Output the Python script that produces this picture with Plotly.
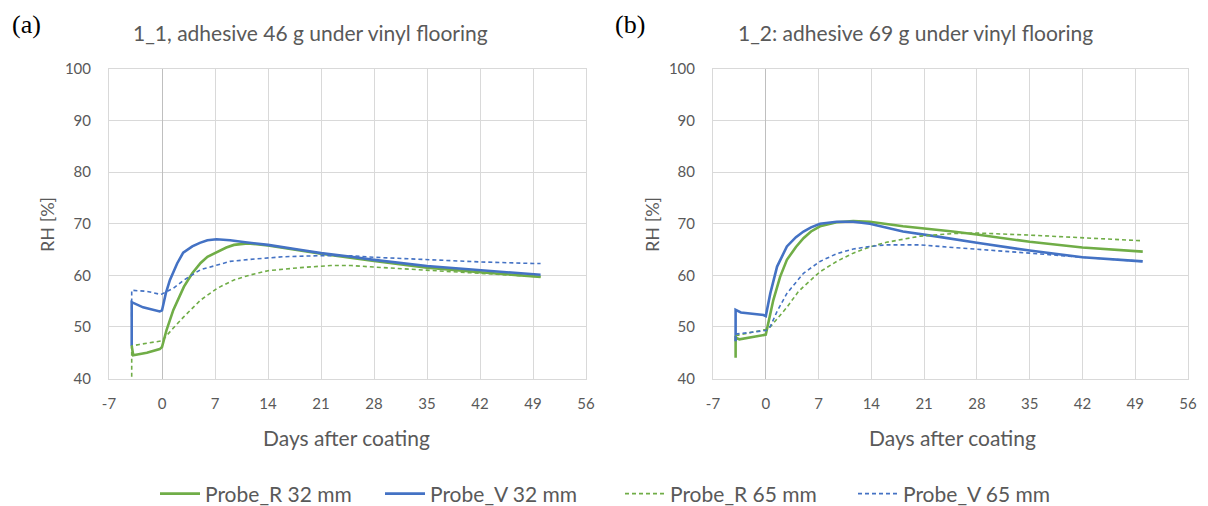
import plotly.graph_objects as go

# ---------------- data ----------------
# Panel (a): 1_1, adhesive 46 g
r32_a_x = [-4, -3.8, -2, -0.3, 0, 0.6, 1.5, 2.9, 4, 5.1, 6, 7.3, 8.5, 9.5, 11.3, 14, 18.4, 21, 28, 35, 42, 49, 50]
r32_a_y = [46.3, 44.5, 45.0, 45.7, 46.1, 49.4, 53.3, 57.8, 60.4, 62.4, 63.6, 64.6, 65.4, 65.9, 66.2, 65.8, 64.8, 64.2, 62.8, 61.5, 60.6, 59.8, 59.7]

v32_a_x = [-4, -4, -2.5, -0.3, 0, 0.5, 1.05, 2, 2.8, 4, 5, 6, 7.2, 9, 11, 14, 18.4, 21, 25, 28, 35, 42, 49, 50]
v32_a_y = [46.3, 54.8, 53.8, 53.0, 53.2, 56.5, 59.1, 62.3, 64.4, 65.6, 66.3, 66.8, 67.0, 66.8, 66.4, 65.9, 64.9, 64.3, 63.6, 63.0, 61.8, 61.0, 60.2, 60.1]

r65_a_x = [-4, -4, -3, -1, 0, 1.5, 2.9, 5.1, 7.3, 9.5, 11.7, 14, 16.1, 18.3, 22.3, 25, 28, 35, 42, 49, 50]
r65_a_y = [39.0, 46.3, 46.6, 47.0, 47.3, 49.8, 52.0, 55.2, 57.5, 59.1, 60.1, 60.9, 61.2, 61.5, 61.9, 61.9, 61.6, 61.0, 60.5, 59.8, 59.7]

v65_a_x = [-4, -4, -2, -0.2, 0, 1.5, 2.9, 5.1, 7.3, 9, 11.7, 14, 16, 20.5, 25, 28, 35, 42, 49, 50]
v65_a_y = [52.0, 57.1, 56.9, 56.3, 56.4, 57.5, 59.1, 61.1, 62.0, 62.7, 63.1, 63.4, 63.6, 63.8, 63.8, 63.5, 63.0, 62.6, 62.3, 62.3]

# Panel (b): 1_2, adhesive 69 g
r32_b_x = [-4, -4, -3.5, -0.3, 0, 1, 1.9, 2.8, 4, 5, 6, 7.2, 9.4, 11.6, 13.8, 18.2, 22.8, 24.8, 28, 35, 42, 49, 50]
r32_b_y = [44.0, 47.9, 47.6, 48.4, 48.5, 55.2, 59.7, 63.0, 65.5, 67.2, 68.5, 69.5, 70.3, 70.5, 70.4, 69.5, 68.9, 68.5, 67.9, 66.5, 65.4, 64.7, 64.6]

v32_b_x = [-4, -4, -3.3, -0.3, 0, 0.6, 1.5, 2.8, 4, 5, 6, 7.2, 9.4, 11.6, 13.8, 18.2, 22.8, 24.8, 28, 35, 42, 49, 50]
v32_b_y = [47.2, 53.3, 52.8, 52.3, 52.1, 56.5, 61.7, 65.6, 67.4, 68.5, 69.3, 70.0, 70.4, 70.4, 70.0, 68.5, 67.5, 67.0, 66.3, 64.8, 63.5, 62.8, 62.7]

r65_b_x = [-4, -2, 0, 0.6, 1.5, 2.8, 4.3, 5, 7.2, 9.4, 11.6, 13.8, 16, 18.2, 20.5, 24.8, 28, 35, 42, 49, 50]
r65_b_y = [48.3, 48.9, 49.5, 50.0, 51.5, 53.8, 56.8, 57.8, 60.7, 62.7, 64.3, 65.5, 66.4, 67.0, 67.6, 68.1, 68.2, 67.8, 67.3, 66.8, 66.7]

v65_b_x = [-4, -2, 0, 0.6, 1.5, 2.8, 5, 7.2, 9.4, 11.6, 13.8, 16, 20.5, 24.8, 28, 35, 42, 49, 50]
v65_b_y = [48.6, 49.0, 49.3, 50.1, 53.0, 56.5, 60.4, 62.7, 64.2, 65.1, 65.6, 65.9, 65.9, 65.4, 65.1, 64.3, 63.5, 62.8, 62.7]

series_names = ["Probe_R 32 mm", "Probe_V 32 mm", "Probe_R 65 mm", "Probe_V 65 mm"]
panel_titles = ["1_1, adhesive 46 g under vinyl flooring", "1_2: adhesive 69 g under vinyl flooring"]
panel_labels = ["(a)", "(b)"]
x_ticks = [-7, 0, 7, 14, 21, 28, 35, 42, 49, 56]
x_ticktext = ["-7", "0", "7", "14", "21", "28", "35", "42", "49", "56"]
y_ticks = [40, 50, 60, 70, 80, 90, 100]

# ---------------- styling ----------------
GREEN = "#70AD47"
BLUE = "#4472C4"
TXT = "#595959"
GRID = "#D9D9D9"
FONT = "Lato, 'Open Sans', sans-serif"

styles = [
    dict(color=GREEN, width=2.6, dash="solid"),
    dict(color=BLUE, width=2.6, dash="solid"),
    dict(color=GREEN, width=1.6, dash="4px,3px"),
    dict(color=BLUE, width=1.6, dash="4px,3px"),
]
legend_ids = ["legend", "legend2", "legend3", "legend4"]
legend_text_x = [205, 430, 670, 903]

panels = [
    [(r32_a_x, r32_a_y), (v32_a_x, v32_a_y), (r65_a_x, r65_a_y), (v65_a_x, v65_a_y)],
    [(r32_b_x, r32_b_y), (v32_b_x, v32_b_y), (r65_b_x, r65_b_y), (v65_b_x, v65_b_y)],
]

fig = go.Figure()
for p, data in enumerate(panels):
    xa = "x" if p == 0 else "x2"
    ya = "y" if p == 0 else "y2"
    for i, (xs, ys) in enumerate(data):
        fig.add_trace(go.Scatter(
            x=xs, y=ys, mode="lines", name=series_names[i],
            line=styles[i], xaxis=xa, yaxis=ya,
            showlegend=(p == 0), legend=legend_ids[i],
        ))

# The page body adds an 8 px offset; convert window pixels to paper fractions.
OFF = 8
W, H = 1200, 498

def px(xw):
    return (xw - OFF) / W

def py(yw):
    return 1 - (yw - OFF) / H

dom_x = [[px(109), px(586)], [px(713), px(1188)]]
dom_y = [py(378.5), py(69)]

def xaxis(dom, anchor):
    return dict(domain=dom, anchor=anchor, range=[-7, 56], tickvals=x_ticks, ticktext=x_ticktext,
                showgrid=True, gridcolor=GRID, gridwidth=1,
                zeroline=True, zerolinecolor="#BFBFBF", zerolinewidth=1.2,
                showline=True, linecolor=GRID, mirror=True, automargin=False,
                ticks="", tickfont=dict(family=FONT, size=15, color=TXT),
                ticklabelstandoff=11, fixedrange=True)

def yaxis(anchor):
    return dict(domain=dom_y, anchor=anchor, range=[40, 100], tickvals=y_ticks,
                showgrid=True, gridcolor=GRID, gridwidth=1,
                zeroline=False, showline=True, linecolor=GRID, mirror=True,
                automargin=False,
                ticks="", tickfont=dict(family=FONT, size=15, color=TXT),
                ticklabelstandoff=14, fixedrange=True)

annotations = []
title_cx = [310, 915]
xtitle_cx = [346, 952]
label_x = [10, 613]
ytitle_x = [47, 652]
for p in range(2):
    annotations.append(dict(text=panel_titles[p], xref="paper", yref="paper",
                            x=px(title_cx[p]), y=py(32),
                            xanchor="center", yanchor="middle", showarrow=False,
                            font=dict(family=FONT, size=21, color=TXT)))
    annotations.append(dict(text=panel_labels[p], xref="paper", yref="paper",
                            x=px(label_x[p]), y=py(25),
                            xanchor="left", yanchor="middle", showarrow=False,
                            font=dict(family="Liberation Serif, serif", size=26, color="#000000")))
    annotations.append(dict(text="Days after coating", xref="paper", yref="paper",
                            x=px(xtitle_cx[p]), y=py(437), xanchor="center", yanchor="middle",
                            showarrow=False, font=dict(family=FONT, size=21, color=TXT)))
    annotations.append(dict(text="RH [%]", xref="paper", yref="paper",
                            x=px(ytitle_x[p]), y=py(225),
                            xanchor="center", yanchor="middle", textangle=-90,
                            showarrow=False, font=dict(family=FONT, size=18, color=TXT)))

layout = dict(
    width=W, height=H,
    margin=dict(l=0, r=0, t=0, b=0, autoexpand=False),
    paper_bgcolor="white", plot_bgcolor="white",
    xaxis=xaxis(dom_x[0], "y"), yaxis=yaxis("x"),
    xaxis2=xaxis(dom_x[1], "y2"), yaxis2=yaxis("x2"),
    annotations=annotations,
    showlegend=True,
)
for i, lid in enumerate(legend_ids):
    layout[lid] = dict(orientation="h", x=px(legend_text_x[i] - 50), y=py(494),
                       xanchor="left", yanchor="middle",
                       font=dict(family=FONT, size=21, color=TXT),
                       itemwidth=40, bgcolor="rgba(0,0,0,0)")
fig.update_layout(**layout)

fig.write_html("out.html")
